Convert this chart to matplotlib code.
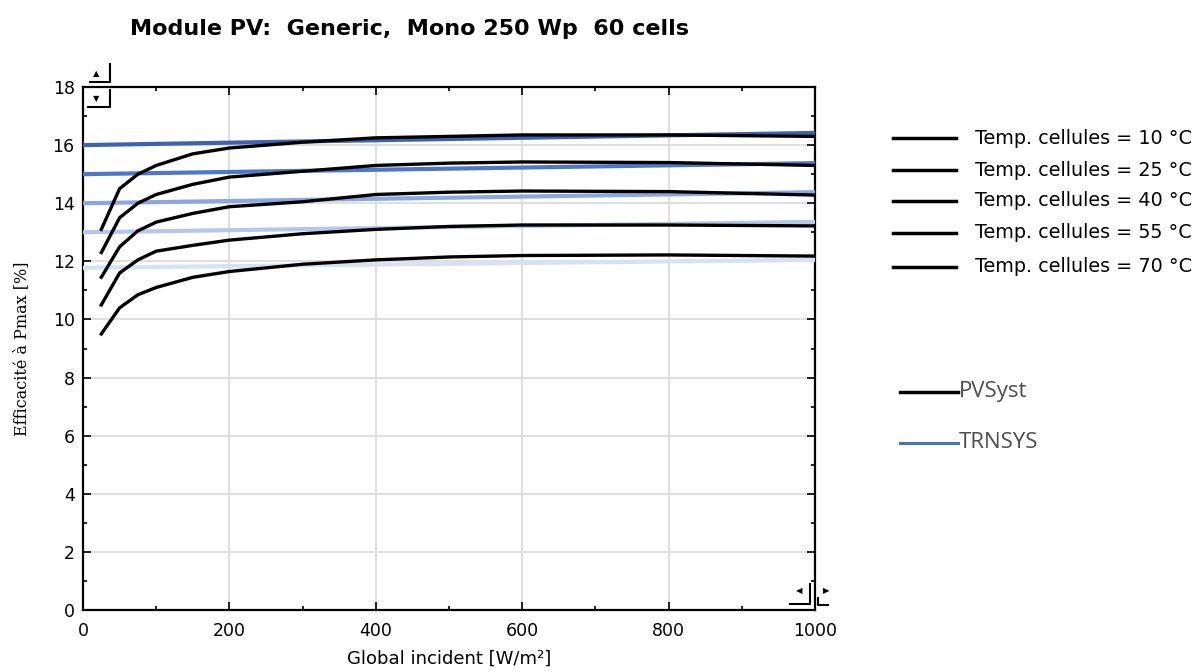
import matplotlib
matplotlib.use("Agg")
import matplotlib.pyplot as plt
import numpy as np
from matplotlib.lines import Line2D

plt.rcParams['font.family'] = ['DejaVu Sans']

# ---- data ----
irradiance = [25, 50, 75, 100, 150, 200, 300, 400, 500, 600, 800, 1000]
temps = ["10", "25", "40", "55", "70"]
pvsyst_t10 = [13.1, 14.5, 15.0, 15.3, 15.7, 15.9, 16.1, 16.25, 16.3, 16.35, 16.35, 16.3]
pvsyst_t25 = [12.3, 13.5, 14.0, 14.3, 14.65, 14.9, 15.1, 15.3, 15.38, 15.42, 15.4, 15.3]
pvsyst_t40 = [11.45, 12.5, 13.05, 13.35, 13.65, 13.88, 14.05, 14.3, 14.38, 14.42, 14.4, 14.28]
pvsyst_t55 = [10.5, 11.6, 12.05, 12.35, 12.55, 12.73, 12.95, 13.1, 13.2, 13.25, 13.25, 13.22]
pvsyst_t70 = [9.5, 10.4, 10.85, 11.1, 11.45, 11.65, 11.9, 12.05, 12.15, 12.2, 12.22, 12.18]
pvsyst = [pvsyst_t10, pvsyst_t25, pvsyst_t40, pvsyst_t55, pvsyst_t70]

trnsys_x = [0, 1000]
trnsys_t10 = [16.0, 16.42]
trnsys_t25 = [15.0, 15.38]
trnsys_t40 = [14.0, 14.38]
trnsys_t55 = [13.0, 13.36]
trnsys_t70 = [11.78, 12.05]
trnsys = [trnsys_t10, trnsys_t25, trnsys_t40, trnsys_t55, trnsys_t70]
trnsys_colors = ["#3d63b0", "#4f77c8", "#8aa8df", "#b4c8ec", "#d6e1f5"]

fig = plt.figure(figsize=(12.01, 6.72), dpi=100)
ax = fig.add_axes([83/1201, 1-610/672, (815-83)/1201, (610-87)/672])

for ys, c in zip(trnsys, trnsys_colors):
    ax.plot(trnsys_x, ys, color=c, lw=3.0, solid_capstyle='butt', zorder=3)
for ys in pvsyst:
    ax.plot(irradiance, ys, color='black', lw=2.4, zorder=4)

ax.set_xlim(0, 1000)
ax.set_ylim(0, 18)
ax.set_xticks([0, 200, 400, 600, 800, 1000])
ax.set_xticks([100, 300, 500, 700, 900], minor=True)
ax.set_yticks(range(0, 19, 2))
ax.set_yticks(range(1, 18, 2), minor=True)
ax.grid(True, which='major', color='#d9d9d9', lw=1.2, zorder=0)
ax.tick_params(which='both', direction='in', top=True, right=True, color='black')
ax.tick_params(which='major', length=6, width=1.2, labelsize=12.5)
ax.tick_params(axis='x', which='major', pad=9)
ax.tick_params(axis='y', which='major', pad=6)
ax.tick_params(which='minor', length=3, width=1.2)
for s in ax.spines.values():
    s.set_linewidth(1.6)
    s.set_color('black')

ax.set_xlabel("Global incident [W/m²]", fontsize=13, labelpad=7)
ax.set_ylabel("Efficacité à Pmax [%]", fontsize=11.5, family=['DejaVu Serif'], labelpad=16)

fig.text(410/1201, 1-29/672, "Module PV:  Generic,  Mono 250 Wp  60 cells",
         fontsize=16, fontweight='bold', ha='center', va='center')

# Legend 1: temperatures
leg_y = [138, 170, 201, 233, 267]
for t, yp in zip(temps, leg_y):
    yf = 1 - yp/672
    fig.add_artist(Line2D([893/1201, 956/1201], [yf, yf], color='black', lw=2.5))
    fig.text(975/1201, yf, f"Temp. cellules = {t} °C", fontsize=13.8, va='center', ha='left')

# Legend 2: sources
for yp, c, lab in [(392, 'black', 'PVSyst'), (443, '#4472c4', 'TRNSYS')]:
    yf = 1 - yp/672
    fig.add_artist(Line2D([900/1201, 958/1201], [yf, yf], color=c, lw=2.5 if c == 'black' else 2.2))
    fig.text(959/1201, yf, lab, fontsize=16, va='center', ha='left', color='#4d4d4d',
             family=['Open Sans', 'DejaVu Sans'])

# scroll widgets
fig.text(96/1201, 1-74/672, "▲", fontsize=6, ha='center', va='center')
fig.text(96/1201, 1-99/672, "▼", fontsize=6, ha='center', va='center')
fig.add_artist(Line2D([110/1201, 110/1201, 90/1201], [1-64/672, 1-82/672, 1-82/672], color='black', lw=1.5))
fig.add_artist(Line2D([110/1201, 110/1201, 88/1201], [1-90/672, 1-107/672, 1-107/672], color='black', lw=1.5))
fig.text(799/1201, 1-591/672, "◀", fontsize=6, ha='center', va='center')
fig.text(826/1201, 1-591/672, "▶", fontsize=6, ha='center', va='center')
fig.add_artist(Line2D([810/1201, 810/1201, 790/1201], [1-584/672, 1-604/672, 1-604/672], color='black', lw=1.5))
fig.add_artist(Line2D([818/1201, 818/1201, 828/1201], [1-598/672, 1-605/672, 1-605/672], color='black', lw=1.5))

fig.savefig("out.png", dpi=100)
